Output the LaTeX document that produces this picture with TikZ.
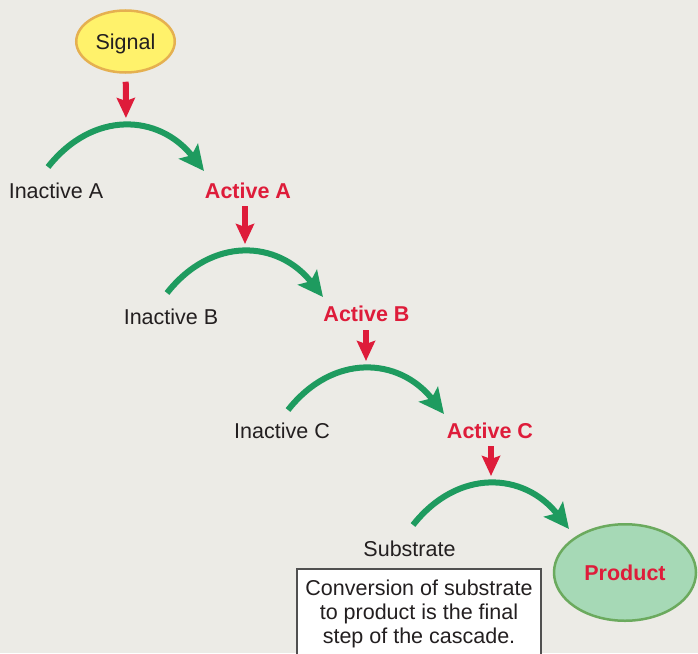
\documentclass[tikz,border=0pt]{standalone}
\usepackage{fontspec}
\setmainfont{Liberation Sans}
\usetikzlibrary{arrows.meta,shapes.geometric}
\definecolor{BackClr}{RGB}{236,235,230}
\definecolor{TextClr}{RGB}{35,31,32}
\definecolor{CascRed}{RGB}{222,28,58}
\definecolor{CascGreen}{RGB}{30,155,95}
\definecolor{SignalClr}{RGB}{255,242,107}
\definecolor{SignalEdge}{RGB}{229,176,80}
\definecolor{ProductClr}{RGB}{166,217,182}
\definecolor{ProductEdge}{RGB}{107,170,94}
\definecolor{NoteEdge}{RGB}{80,80,80}

\begin{document}
\begin{tikzpicture}[x=1pt,y=-1pt,
  every node/.style={font=\fontsize{21.5}{24.2}\selectfont,text=TextClr},
  inactive/.style={anchor=base,inner sep=0pt},
  active/.style={anchor=base,inner sep=0pt,text=CascRed,font=\fontsize{21.5}{24.2}\selectfont\bfseries},
  cascade/.style={line width=6pt,color=CascGreen,-{Stealth[length=25pt,width=24pt,inset=5pt]}},
  trigger/.style={line width=6pt,color=CascRed,-{Stealth[length=20pt,width=18pt,inset=3pt]},shorten <=8pt,shorten >=8pt}]

\fill[BackClr] (0,0) rectangle (698,653);
\useasboundingbox (0,0) rectangle (698,653);

\foreach \px/\py/\n in {126/126/1,245/252/2,366/369/3,491/484/4}{
  \coordinate (K\n) at (\px,\py);
  \coordinate (S\n) at (\px-78,\py+41);
  \coordinate (T\n) at (\px+78,\py+45);
  \draw[cascade] (S\n) .. controls +(45,-57) and +(-45,-57) .. (T\n);
}

\node[ellipse,draw=SignalEdge,fill=SignalClr,line width=2.5pt,text depth=0pt,
  minimum width=98.5pt,minimum height=62pt] (sig) at (125.5,41.5) {Signal};
\node[ellipse,draw=ProductEdge,fill=ProductClr,line width=2.5pt,
  minimum width=142pt,minimum height=96.5pt,font=\fontsize{21.5}{24.2}\selectfont\bfseries,
  text=CascRed] (prod) at (625,572.5) {Product};

\node[inactive] (inA) at (56,198) {Inactive A};
\node[active] (actA) at (248,198) {Active A};
\node[inactive] (inB) at (171,324) {Inactive B};
\node[active] (actB) at (366.5,321.7) {Active B};
\node[inactive] (inC) at (282,438) {Inactive C};
\node[active] (actC) at (490,438) {Active C};
\node[inactive] (sub) at (409.5,556.7) {Substrate};

\draw[trigger] (sig) -- (K1);
\draw[trigger] (actA.south -| K2) -- (K2);
\draw[trigger] (actB.south -| K3) -- (K3);
\draw[trigger] (actC.south -| K4) -- (K4);

% note box, open at the bottom edge
\node[fill=white,anchor=north,align=center,inner sep=0pt,
  minimum width=244pt,minimum height=89pt] (note) at (419,569)
  {Conversion of substrate\\to product is the final\\step of the cascade.};
\draw[NoteEdge,line width=1.5pt] (note.south west) -- (note.north west)
  -- (note.north east) -- (note.south east);

\end{tikzpicture}
\end{document}
